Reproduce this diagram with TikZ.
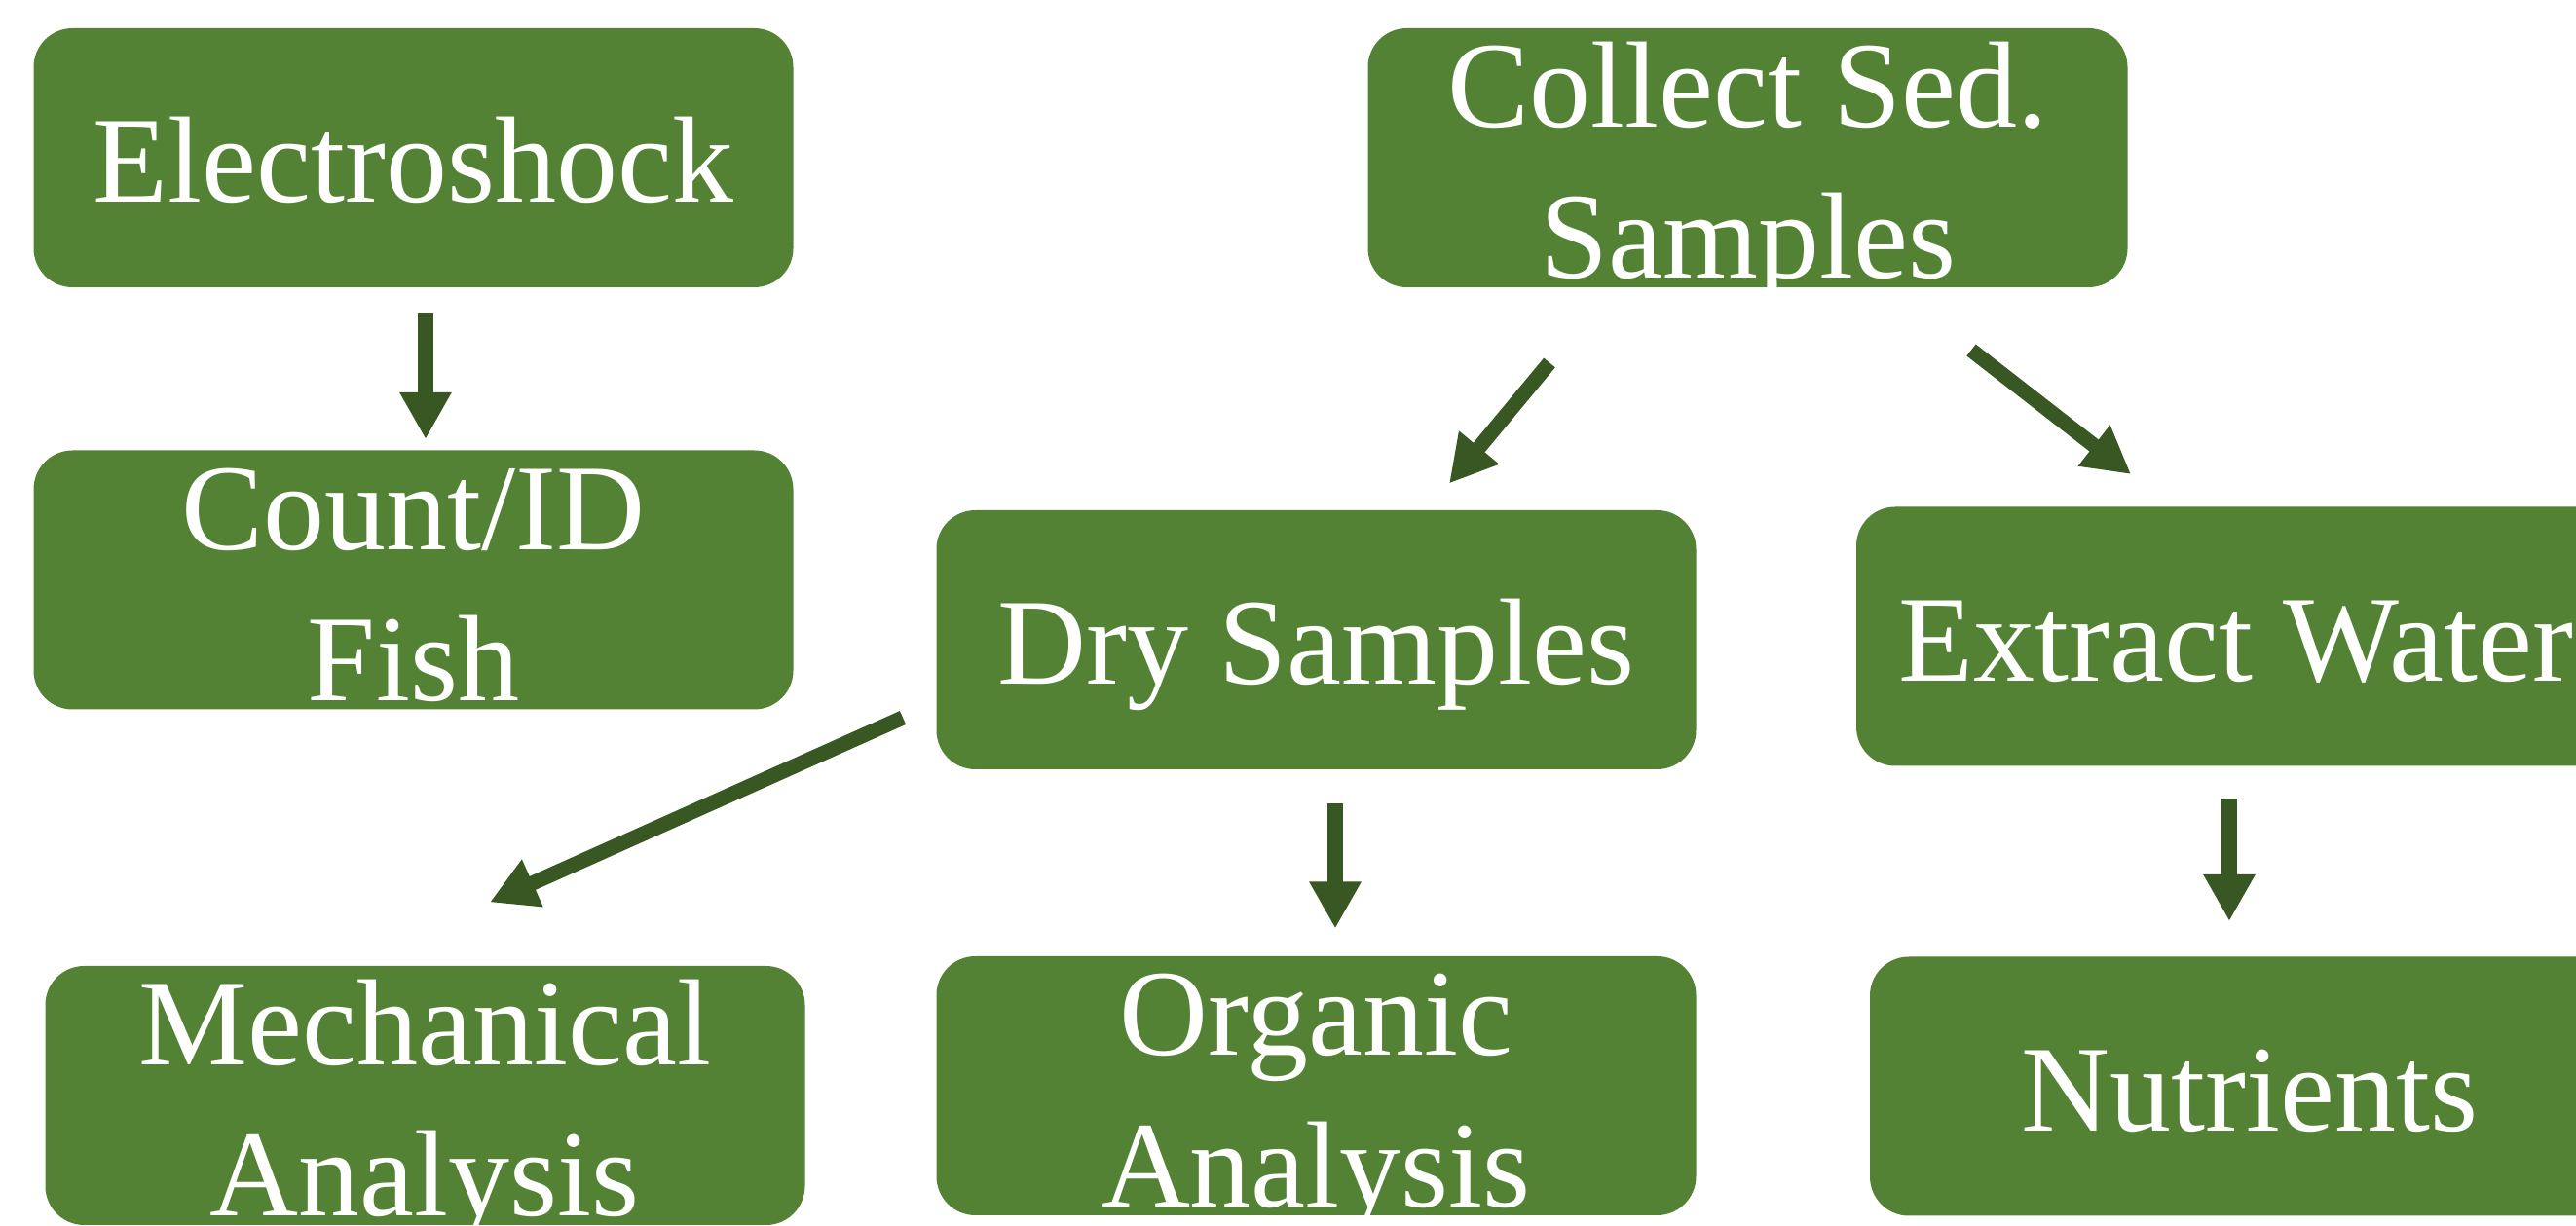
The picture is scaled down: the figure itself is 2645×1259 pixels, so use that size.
\documentclass[tikz,border=0pt]{standalone}
\usepackage{fontspec}
\setmainfont{Liberation Serif}
\usetikzlibrary{arrows.meta,calc}
\definecolor{boxgreen}{RGB}{84,130,53}
\definecolor{arrowgreen}{RGB}{56,87,35}
\tikzset{every picture/.style={line width=0.75pt}}
\tikzset{
  greenbox/.style={fill=boxgreen, rounded corners=10pt, minimum width=195pt, minimum height=66.5pt, inner sep=0pt, text=white, align=center, font=\fontsize{31.5}{38.8}\selectfont, text height=23pt, text depth=0pt},
  twoline/.style={text height=62pt, text depth=0pt},
  flowarrow/.style={draw=arrowgreen, line width=3.8pt, -{Triangle[length=12pt,width=12.5pt]}}
}

\begin{document}
\begin{tikzpicture}[x=0.25pt,y=0.25pt,yscale=-1,xscale=1]
		\useasboundingbox (0,0) rectangle (2645,1259);
		
		%Boxes
		\node[greenbox] (elec) at (424.5,162) {Electroshock};
		\node[greenbox,twoline] (count) at (424.5,595.5) {Count/ID\\Fish};
		\node[greenbox,twoline] (collect) at (1794.5,162) {Collect Sed.\\Samples};
		\node[greenbox] (dry) at (1351.5,657) {Dry Samples};
		\node[greenbox] (extract) at (2296,653.5) {Extract Water};
		\node[greenbox,twoline] (mech) at (436.5,1125) {Mechanical\\Analysis};
		\node[greenbox,twoline] (org) at (1351.5,1115) {Organic\\Analysis};
		\node[greenbox] (nutr) at (2310,1115.5) {Nutrients};
		
		%Arrows
		\draw[flowarrow] ($(elec.south)+(12.5,25)$) -- ($(count.north)+(12.5,-10)$);
		\draw[flowarrow] ($(collect.south)+(-203.5,76)$) -- ($(dry.north)+(136.5,-26)$);
		\draw[flowarrow] ($(collect.south)+(229.5,63)$) -- ($(extract.north)+(-108,-32)$);
		\draw[flowarrow] ($(dry.west)+(-33,80)$) -- ($(mech.north)+(66.5,-64)$);
		\draw[flowarrow] ($(dry.south)+(19.5,34)$) -- ($(org.north)+(19.5,-27)$);
		\draw[flowarrow] ($(extract.south)+(-7,32)$) -- ($(nutr.north)+(-21,-35)$);
		
\end{tikzpicture}
\end{document}
